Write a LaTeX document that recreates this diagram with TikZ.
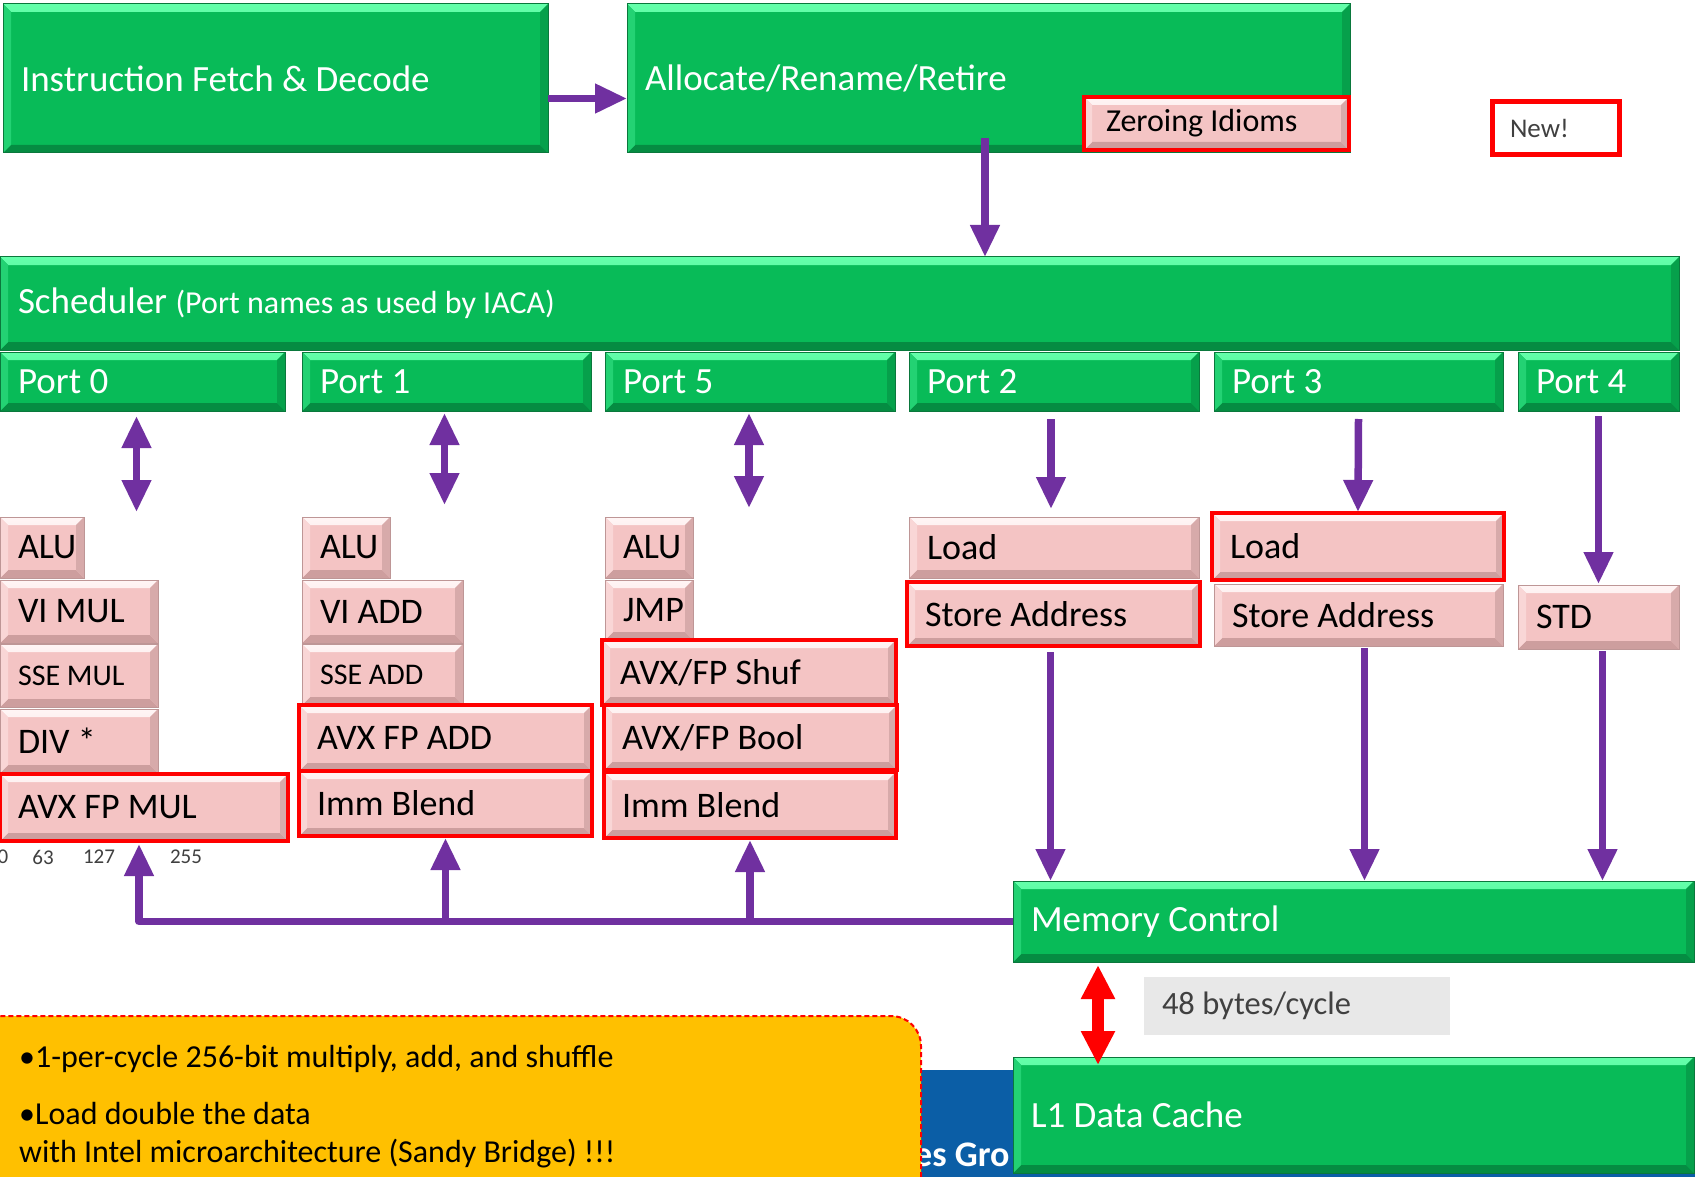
\documentclass[tikz,border=0pt]{standalone}
\usepackage{fontspec}
\setmainfont{Carlito}
\usetikzlibrary{arrows.meta}

% palette
\definecolor{gbase}{RGB}{8,187,88}
\definecolor{ghi}{RGB}{100,255,170}
\definecolor{gtop}{RGB}{50,225,130}
\definecolor{gleft}{RGB}{35,210,115}
\definecolor{gright}{RGB}{6,160,75}
\definecolor{gbot}{RGB}{5,140,66}
\definecolor{gedge}{RGB}{10,120,60}
\definecolor{pbase}{RGB}{244,196,196}
\definecolor{phi}{RGB}{255,245,245}
\definecolor{ptop}{RGB}{248,215,215}
\definecolor{pleft}{RGB}{249,214,214}
\definecolor{pright}{RGB}{215,170,170}
\definecolor{pbot}{RGB}{205,158,158}
\definecolor{pedge}{RGB}{190,150,150}
\definecolor{purp}{RGB}{112,48,160}
\definecolor{noteyellow}{RGB}{255,192,0}
\definecolor{barblue}{RGB}{11,94,166}
\definecolor{taggray}{RGB}{232,232,232}
\definecolor{darktext}{RGB}{64,64,64}

\newcommand\fsz[1]{\fontsize{#1}{#1}\selectfont}
\def\padx{18}
\def\bv{8pt}

\tikzset{
  bevel/.style={fill=#1base, draw=#1edge, line width=1pt,
    path picture={
      \shade[top color=#1hi, bottom color=#1top] (path picture bounding box.north west) -- (path picture bounding box.north east)
        -- ([xshift=-\bv,yshift=-\bv]path picture bounding box.north east)
        -- ([xshift=\bv,yshift=-\bv]path picture bounding box.north west) -- cycle;
      \fill[#1bot] (path picture bounding box.south west) -- (path picture bounding box.south east)
        -- ([xshift=-\bv,yshift=\bv]path picture bounding box.south east)
        -- ([xshift=\bv,yshift=\bv]path picture bounding box.south west) -- cycle;
      \fill[#1left] (path picture bounding box.north west)
        -- ([xshift=\bv,yshift=-\bv]path picture bounding box.north west)
        -- ([xshift=\bv,yshift=\bv]path picture bounding box.south west)
        -- (path picture bounding box.south west) -- cycle;
      \fill[#1right] (path picture bounding box.north east)
        -- ([xshift=-\bv,yshift=-\bv]path picture bounding box.north east)
        -- ([xshift=-\bv,yshift=\bv]path picture bounding box.south east)
        -- (path picture bounding box.south east) -- cycle;
    }},
  blockbase/.style={anchor=north west, outer sep=0pt, inner xsep=\padx pt, inner ysep=0pt, align=left},
  gbox/.style={blockbase, bevel=g, text=white, font=\fsz{37}},
  pbox/.style={blockbase, bevel=p, text=black, font=\fsz{36}},
  prbox/.style={pbox, draw=red, line width=4pt},
  tagbox/.style={blockbase, fill=taggray, text=darktext, font=\fsz{32.5}},
  newbox/.style={blockbase, fill=white, draw=red, line width=5pt, text=darktext, font=\fsz{27}},
  notebox/.style={fill=noteyellow, draw=red, line width=2pt, dash pattern=on 5pt off 3pt, rounded corners=30pt},
  notetext/.style={anchor=base west, inner sep=0pt, text=black, font=\fsz{32}},
  bitlbl/.style={inner sep=0pt, text=darktext, font=\fsz{21}},
  parrow/.style={draw=purp, line width=7.5pt, -{Triangle[length=32pt,width=28pt]}},
  pdbl/.style={draw=purp, line width=7.5pt, {Triangle[length=32pt,width=28pt]}-{Triangle[length=32pt,width=28pt]}},
  rdbl/.style={draw=red, line width=12pt, {Triangle[length=34pt,width=32pt]}-{Triangle[length=34pt,width=32pt]}},
}

% block: style, name, x1, y1, x2, y2, text (word spaces kept at the font's own width)
\newcommand\blk[7]{%
  \pgfmathsetmacro\bW{#5-(#3)}\pgfmathsetmacro\bH{#6-(#4)}\pgfmathsetmacro\bT{#5-(#3)-2*\padx}%
  \node[#1, minimum width=\bW pt, minimum height=\bH pt, text width=\bT pt] (#2) at (#3,#4)
    {\spaceskip=0pt\xspaceskip=0pt\relax #7};}

\begin{document}
\begin{tikzpicture}[x=1pt,y=-1pt]
\useasboundingbox (0,0) rectangle (1695,1177);
\fill[white] (0,0) rectangle (1695,1177);

% footer bar and summary note
\fill[barblue] (700,1070) rectangle (1695,1177);
\node[anchor=base west, inner sep=0pt, text=white, font=\fsz{36}\bfseries] (grp) at (914,1166) {es Gro};
\draw[notebox] (-40,1016) rectangle (921,1240);
\node[notetext] (n1) at (19,1067) {•1-per-cycle 256-bit multiply, add, and shuffle};
\node[notetext] (n2) at (19,1124) {•Load double the data};
\node[notetext] (n3) at (19,1162) {with Intel microarchitecture (Sandy Bridge) !!!};

% front end
\blk{gbox}{fetch}{3}{4}{548}{153}{Instruction Fetch \& Decode}
\blk{gbox}{alloc}{627}{4}{1350}{153}{Allocate/Rename/Retire}
\blk{prbox}{zero}{1084}{97}{1349}{150}{\hspace*{4pt}\fsz{32}Zeroing Idioms}
\blk{newbox}{new}{1492}{102}{1619}{155}{New!}

% scheduler and ports
\blk{gbox}{sched}{0}{257}{1679}{350}{Scheduler {\fsz{32}(Port names as used by IACA)}}
\blk{gbox}{p0}{0}{352}{285}{411}{Port 0}
\blk{gbox}{p1}{302}{352}{591}{411}{Port 1}
\blk{gbox}{p5}{605}{352}{895}{411}{Port 5}
\blk{gbox}{p2}{909}{352}{1199}{411}{Port 2}
\blk{gbox}{p3}{1214}{352}{1503}{411}{Port 3}
\blk{gbox}{p4}{1518}{352}{1679}{411}{Port 4}

% port 0 units
\blk{pbox}{alu0}{0}{517}{84}{578}{ALU}
\blk{pbox}{vimul}{0}{580}{158}{643}{VI MUL}
\blk{pbox}{ssemul}{0}{644}{158}{707}{\fsz{30}SSE MUL}
\blk{pbox}{div}{0}{709}{158}{773}{DIV *}
\blk{prbox}{avxmul}{0}{774}{288}{841}{AVX FP MUL}
\node[bitlbl] (b0) at (3,857) {0};
\node[bitlbl] (b63) at (43,857) {63};
\node[bitlbl] (b127) at (99,857) {127};
\node[bitlbl] (b255) at (186,857) {255};

% port 1 units
\blk{pbox}{alu1}{302}{517}{390}{578}{ALU}
\blk{pbox}{viadd}{302}{580}{463}{643}{VI ADD}
\blk{pbox}{sseadd}{302}{644}{463}{705}{\fsz{30}SSE ADD}
\blk{prbox}{avxadd}{299}{705}{592}{771}{AVX FP ADD}
\blk{prbox}{imm1}{299}{771}{592}{836}{Imm Blend}

% port 5 units
\blk{pbox}{alu5}{605}{517}{693}{578}{ALU}
\blk{pbox}{jmp}{605}{580}{693}{640}{JMP}
\blk{prbox}{shuf}{602}{640}{896}{705}{AVX/FP Shuf}
\blk{prbox}{bool}{604}{705}{897}{770}{AVX/FP Bool}
\blk{prbox}{imm5}{604}{772}{896}{838}{Imm Blend}

% ports 2, 3, 4 units
\blk{pbox}{ld2}{909}{517}{1199}{578}{Load}
\blk{prbox}{sa2}{907}{582}{1200}{646}{Store Address}
\blk{prbox}{ld3}{1212}{513}{1504}{580}{Load}
\blk{pbox}{sa3}{1214}{584}{1503}{646}{Store Address}
\blk{pbox}{std}{1518}{585}{1679}{649}{STD}

% memory side
\blk{gbox}{mem}{1013}{881}{1694}{962}{Memory Control}
\blk{tagbox}{bw}{1144}{977}{1450}{1035}{48 bytes/cycle}
\blk{gbox}{l1}{1013}{1057}{1694}{1173}{L1 Data Cache}

% connectors
\draw[parrow] ([yshift=-20pt]fetch.east) -- ([yshift=-20pt]alloc.west);
\coordinate (allocout) at (985,138);
\draw[parrow] (allocout) -- (allocout |- sched.north);

\draw[pdbl] ([xshift=-6pt,yshift=-5pt]p0.south) -- ++(0,96);
\draw[pdbl] ([xshift=-2pt,yshift=-2pt]p1.south) -- ++(0,92);
\draw[pdbl] ([xshift=-1pt,yshift=-2pt]p5.south) -- ++(0,95);

\draw[parrow] ([xshift=-3pt,yshift=-8pt]p2.south) -- ([xshift=-3pt,yshift=8pt]ld2.north);
\draw[parrow] ([yshift=-8pt]p3.south) -- ([yshift=1pt]ld3.north);
\draw[parrow] ([yshift=-5pt]p4.south) -- ([yshift=1pt]std.north);

\draw[parrow] ([xshift=-3pt,yshift=-6pt]sa2.south) -- ([xshift=-3pt]sa2.south |- mem.north);
\draw[parrow] ([xshift=6pt,yshift=-2pt]sa3.south) -- ([xshift=6pt]sa3.south |- mem.north);
\draw[parrow] ([xshift=4pt,yshift=-2pt]std.south) -- ([xshift=4pt]std.south |- mem.north);

\draw[parrow, line join=round] (mem.west) -| ([xshift=-5pt,yshift=-3pt]avxmul.south);
\draw[parrow] (imm1.south |- mem.west) -- ([yshift=-2pt]imm1.south);
\draw[parrow] (imm5.south |- mem.west) -- ([yshift=-2pt]imm5.south);

\draw[rdbl] ([xshift=85pt,yshift=-3pt]mem.south west) -- ([xshift=85pt,yshift=-8pt]l1.north west);
\end{tikzpicture}
\end{document}
